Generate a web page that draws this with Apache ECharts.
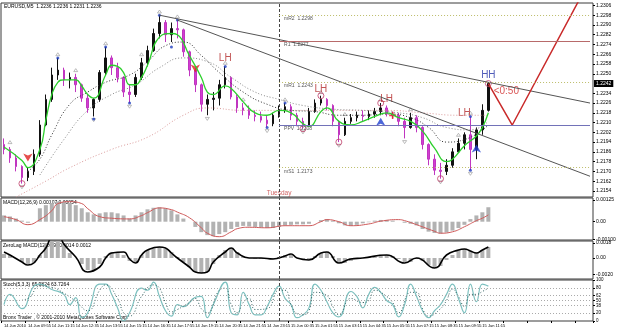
<!DOCTYPE html>
<html>
<head>
<meta charset="utf-8">
<script src="https://cdn.jsdelivr.net/npm/echarts@6/dist/echarts.min.js"></script>
<style>
  html, body { margin: 0; padding: 0; background: #fff; }
  #chart { width: 625px; height: 330px; }
</style>
</head>
<body>
<div id="chart"></div>
<script>
const FONT = 'Liberation Sans'
const NARROW = '"Liberation Sans Narrow", "Liberation Sans"'

// bottom time labels, one every 4 slots (20 min per slot)
const timeLabels = [
  '14 Jun 2010', '14 Jun 09:55', '14 Jun 11:15', '14 Jun 12:35', '14 Jun 13:55',
  '14 Jun 15:15', '14 Jun 16:35', '14 Jun 17:55', '14 Jun 19:15', '14 Jun 20:35',
  '14 Jun 21:55', '14 Jun 23:15', '15 Jun 00:35', '15 Jun 01:55', '15 Jun 03:15',
  '15 Jun 04:35', '15 Jun 05:55', '15 Jun 07:15', '15 Jun 08:35', '15 Jun 09:55',
  '15 Jun 11:15',
]
const SLOTS = 99
const slots = Array.from({ length: SLOTS }, (_, i) => String(i))
const dayStart = 46

const priceTicks = [1.2154, 1.2162, 1.2170, 1.2178, 1.2186, 1.2194, 1.2202, 1.2210, 1.2218,
  1.2226, 1.2234, 1.2250, 1.2258, 1.2266, 1.2274, 1.2282, 1.2290, 1.2298, 1.2306]
const lastPrice = 1.2242

// [open, close, low, high]
const candles = [
  [1.2192, 1.2188, 1.2184, 1.2197], [1.2188, 1.2181, 1.2177, 1.2190], [1.2181, 1.2174, 1.2170, 1.2184],
  [1.2174, 1.2165, 1.2160, 1.2175], [1.2165, 1.2170, 1.2162, 1.2173], [1.2170, 1.2184, 1.2167, 1.2188],
  [1.2184, 1.2208, 1.2182, 1.2212], [1.2208, 1.2229, 1.2207, 1.2233], [1.2229, 1.2249, 1.2227, 1.2255],
  [1.2249, 1.2253, 1.2245, 1.2263], [1.2253, 1.2245, 1.2240, 1.2255], [1.2245, 1.2247, 1.2238, 1.2251],
  [1.2247, 1.2241, 1.2235, 1.2250], [1.2241, 1.2230, 1.2227, 1.2242], [1.2230, 1.2222, 1.2218, 1.2233],
  [1.2222, 1.2229, 1.2215, 1.2230], [1.2229, 1.2251, 1.2227, 1.2253], [1.2251, 1.2263, 1.2249, 1.2272],
  [1.2263, 1.2255, 1.2249, 1.2265], [1.2255, 1.2247, 1.2243, 1.2259], [1.2247, 1.2235, 1.2231, 1.2248],
  [1.2235, 1.2233, 1.2226, 1.2241], [1.2233, 1.2247, 1.2231, 1.2250], [1.2247, 1.2259, 1.2245, 1.2263],
  [1.2259, 1.2269, 1.2256, 1.2273], [1.2269, 1.2283, 1.2268, 1.2287], [1.2283, 1.2292, 1.2279, 1.2298],
  [1.2292, 1.2282, 1.2276, 1.2294], [1.2282, 1.2287, 1.2276, 1.2292], [1.2287, 1.2286, 1.2279, 1.2294],
  [1.2286, 1.2268, 1.2264, 1.2287], [1.2268, 1.2253, 1.2248, 1.2269], [1.2253, 1.2241, 1.2235, 1.2255],
  [1.2241, 1.2225, 1.2219, 1.2242], [1.2225, 1.2229, 1.2216, 1.2233], [1.2229, 1.2230, 1.2220, 1.2235],
  [1.2230, 1.2241, 1.2224, 1.2245], [1.2241, 1.2247, 1.2238, 1.2256], [1.2247, 1.2231, 1.2229, 1.2248],
  [1.2231, 1.2222, 1.2218, 1.2233], [1.2222, 1.2220, 1.2216, 1.2226], [1.2220, 1.2216, 1.2213, 1.2224],
  [1.2216, 1.2215, 1.2211, 1.2220], [1.2215, 1.2212, 1.2210, 1.2219], [1.2212, 1.2209, 1.2206, 1.2216],
  [1.2209, 1.2216, 1.2207, 1.2218], [1.2216, 1.2220, 1.2214, 1.2224], [1.2220, 1.2223, 1.2218, 1.2226],
  [1.2223, 1.2216, 1.2212, 1.2225], [1.2216, 1.2211, 1.2207, 1.2218], [1.2211, 1.2208, 1.2205, 1.2214],
  [1.2208, 1.2219, 1.2207, 1.2222], [1.2219, 1.2226, 1.2218, 1.2229], [1.2226, 1.2229, 1.2224, 1.2232],
  [1.2229, 1.2224, 1.2220, 1.2230], [1.2224, 1.2211, 1.2207, 1.2225], [1.2211, 1.2200, 1.2194, 1.2212],
  [1.2200, 1.2211, 1.2199, 1.2214], [1.2211, 1.2214, 1.2209, 1.2217], [1.2214, 1.2216, 1.2211, 1.2219],
  [1.2216, 1.2215, 1.2211, 1.2220], [1.2215, 1.2217, 1.2212, 1.2220], [1.2217, 1.2219, 1.2214, 1.2222],
  [1.2219, 1.2222, 1.2216, 1.2226], [1.2222, 1.2217, 1.2215, 1.2224], [1.2217, 1.2216, 1.2213, 1.2219],
  [1.2216, 1.2211, 1.2207, 1.2218], [1.2211, 1.2206, 1.2197, 1.2214], [1.2206, 1.2214, 1.2205, 1.2218],
  [1.2214, 1.2206, 1.2202, 1.2216], [1.2206, 1.2192, 1.2188, 1.2207], [1.2192, 1.2180, 1.2175, 1.2193],
  [1.2180, 1.2171, 1.2167, 1.2184], [1.2171, 1.2170, 1.2164, 1.2177], [1.2170, 1.2175, 1.2167, 1.2180],
  [1.2175, 1.2186, 1.2173, 1.2189], [1.2186, 1.2193, 1.2186, 1.2197], [1.2193, 1.2200, 1.2188, 1.2202],
  [1.2200, 1.2188, 1.2171, 1.2215], [1.2188, 1.2204, 1.2180, 1.2206], [1.2204, 1.2220, 1.2200, 1.2225],
  [1.2220, 1.2242, 1.2219, 1.2243],
]

// moving averages, read at [slot, price]
const maFast = [[0, 1.2190], [3, 1.2179], [4, 1.2173], [6, 1.2188], [7, 1.2212], [8, 1.2233], [9, 1.2243],
  [10, 1.2245], [12, 1.2245], [13, 1.2240], [14, 1.2233], [15, 1.2230], [17, 1.2249], [18, 1.2257],
  [19, 1.2256], [20, 1.2251], [21, 1.2241], [22, 1.2241], [23, 1.2247], [24, 1.2257], [26, 1.2280],
  [28, 1.2283], [29, 1.2282], [31, 1.2265], [33, 1.2247], [34, 1.2235], [35, 1.2233], [37, 1.2240],
  [38, 1.2238], [40, 1.2227], [42, 1.2218], [44, 1.2216], [46, 1.2220], [48, 1.2218], [50, 1.2209],
  [51, 1.2207], [53, 1.2219], [54, 1.2222], [56, 1.2211], [58, 1.2208], [60, 1.2211], [62, 1.2215],
  [64, 1.2218], [66, 1.2214], [68, 1.2211], [70, 1.2203], [72, 1.2189], [74, 1.2178], [75, 1.2180],
  [77, 1.2191], [79, 1.2199], [80, 1.2206], [81, 1.2218]]
const maMid = [[4, 1.2170], [6, 1.2180], [8, 1.2200], [11, 1.2225], [14, 1.2235], [17, 1.2243], [21, 1.2249],
  [24, 1.2260], [27, 1.2273], [30, 1.2276], [33, 1.2265], [36, 1.2251], [40, 1.2235], [44, 1.2225],
  [48, 1.2220], [52, 1.2219], [56, 1.2216], [60, 1.2216], [64, 1.2217], [68, 1.2214], [71, 1.2206],
  [74, 1.2194], [77, 1.2196], [81, 1.2208]]
const maSlow = [[6, 1.2167], [10, 1.2196], [14, 1.2220], [18, 1.2233], [22, 1.2241], [26, 1.2255],
  [30, 1.2263], [34, 1.2260], [38, 1.2247], [42, 1.2235], [46, 1.2229], [50, 1.2224], [55, 1.2221],
  [60, 1.2220], [66, 1.2218], [70, 1.2214], [74, 1.2206], [78, 1.2204], [81, 1.2211]]
const maLong = [[2, 1.2149], [7, 1.2162], [11, 1.2173], [18, 1.2188], [24, 1.2198], [30, 1.2216],
  [34, 1.2222], [40, 1.2220], [46, 1.2220], [52, 1.2220], [58, 1.2220], [64, 1.2220], [70, 1.2218],
  [76, 1.2216], [81, 1.2216]]

const trendUpper = [[26, 1.2298], [98, 1.2226]]
const trendLower = [[29, 1.2294], [98, 1.2166]]
const projection = [[81, 1.2242], [85, 1.2208], [97, 1.2318]]

const pivotNames = ['mR2', 'R1', 'mR1', 'PPV', 'mS1']
const pivotValues = [1.2298, 1.2277, 1.2243, 1.2208, 1.2173]

const fractalHighs = [[1, 1.2194], [9, 1.2266], [12, 1.2253], [17, 1.2275], [23, 1.2266], [26, 1.2301],
  [29, 1.2297], [37, 1.2259], [40, 1.2229], [47, 1.2229], [53, 1.2235], [57, 1.2217], [63, 1.2229],
  [68, 1.2221], [76, 1.2200], [78, 1.2218]]
const fractalLows = [[3, 1.2157], [15, 1.2212], [21, 1.2223], [34, 1.2213], [44, 1.2203], [50, 1.2202],
  [56, 1.2191], [67, 1.2194], [73, 1.2161], [78, 1.2168]]
const blueDots = [[9, 1.2263], [17, 1.2272], [26, 1.2298], [28, 1.2272], [29, 1.2294], [15, 1.2213],
  [21, 1.2226], [37, 1.2256], [44, 1.2206], [47, 1.2226], [78, 1.2215], [78, 1.2171]]
const targets = [[3, 1.2160], [50, 1.2205], [56, 1.2194], [53, 1.2232], [63, 1.2226], [73, 1.2164], [81, 1.2242]]
const sellArrows = [[4, 1.2178], [32, 1.2251]]
const buyArrows = [[63, 1.2214], [79, 1.2192]]
const exitCross = [[65, 1.2216]]

const swingNames = ['LH', 'LH', 'LH', 'LH', 'HH', '<0:50']
const swingPoints = [[37, 1.2263], [53, 1.2237], [64, 1.2229], [77, 1.2218], [81, 1.2249], [84, 1.2236]]

// MACD(12,26,9)
const macdHist = [0.00036, 0.00030, 0.00018, 0.00006, -0.00006, 0, 0.00077, 0.00095, 0.00107, 0.00116,
  0.00113, 0.00107, 0.00095, 0.00077, 0.00054, 0.00042, 0.00048, 0.00054, 0.00054, 0.00048,
  0.00036, 0.00018, 0.00036, 0.00054, 0.00071, 0.00080, 0.00083, 0.00077, 0.00065, 0.00042,
  0.00018, 0, -0.00030, -0.00060, -0.00077, -0.00083, -0.00071, -0.00060, -0.00042, -0.00030,
  -0.00024, -0.00027, -0.00030, -0.00033, -0.00036, -0.00036, -0.00030, -0.00021, -0.00018, -0.00015,
  -0.00015, -0.00012, 0, 0.00009, 0.00015, 0.00006, -0.00009, -0.00021, -0.00024, -0.00018,
  -0.00009, -0.00003, 0.00006, 0.00010, 0.00010, 0.00006, 0, -0.00006, -0.00012, -0.00021,
  -0.00042, -0.00057, -0.00065, -0.00068, -0.00062, -0.00051, -0.00036, -0.00018, 0.00015, 0.00036,
  0.00054, 0.00083]
const macdSignal = [[0, 0.00029], [2, 0.00012], [4, -0.00017], [6, 0.00012], [8, 0.00063], [9, 0.00104],
  [11, 0.00115], [13, 0.00104], [14, 0.00075], [16, 0.00029], [18, 0.00020], [21, 0.00016], [23, 0.00035],
  [24, 0.00052], [26, 0.00079], [28, 0.00069], [29, 0.00055], [31, 0.00023], [33, -0.00035], [34, -0.00066],
  [36, -0.00086], [38, -0.00058], [39, -0.00040], [41, -0.00032], [44, -0.00035], [47, -0.00023],
  [51, -0.00023], [53, 0], [54, 0.00012], [56, 0], [58, -0.00023], [61, -0.00013], [63, 0.00003],
  [66, 0.00012], [67, 0.00006], [69, -0.00017], [72, -0.00055], [73, -0.00066], [75, -0.00058],
  [77, -0.00029], [79, 0.00006], [80, 0.00020], [81, 0.00039]]

// ZeroLag MACD(12,26,9)
const zlHist = [0.00048, 0.00036, 0, -0.00048, -0.00072, -0.00060, 0.00036, 0.00180, 0.00240, 0.00240,
  0.00168, 0.00060, 0, -0.00072, -0.00144, -0.00144, -0.00072, 0.00024, 0.00072, 0.00072,
  0.00036, -0.00036, -0.00048, 0.00036, 0.00096, 0.00120, 0.00132, 0.00108, 0.00072, 0.00012,
  -0.00048, -0.00108, -0.00168, -0.00180, -0.00168, -0.00072, 0.00036, 0.00096, 0.00108, 0.00072,
  0.00024, 0, -0.00012, -0.00012, -0.00012, -0.00012, 0.00012, 0.00036, 0.00036, 0,
  -0.00012, -0.00024, 0.00024, 0.00060, 0.00072, 0.00024, -0.00048, -0.00060, -0.00036, -0.00012,
  0, 0.00012, 0.00012, 0.00024, 0.00036, 0.00024, -0.00012, -0.00048, -0.00048, -0.00012,
  -0.00036, -0.00084, -0.00120, -0.00096, -0.00024, 0.00036, 0.00096, 0.00108, 0.00084, 0.00060,
  0.00096, 0.00132]
const zlSignal = [[0, 0.00072], [1, 0.00036], [3, -0.00048], [4, -0.00084], [5, -0.00060], [6, 0.00036],
  [7, 0.00120], [8, 0.00264], [9, 0.00300], [10, 0.00168], [12, 0.00012], [14, -0.00168], [16, -0.00108],
  [17, 0], [18, 0.00060], [20, 0.00072], [21, -0.00012], [22, -0.00060], [23, 0.00036], [24, 0.00096],
  [26, 0.00132], [27, 0.00120], [28, 0.00060], [29, 0], [31, -0.00108], [32, -0.00168], [33, -0.00180],
  [34, -0.00168], [35, -0.00048], [37, 0.00072], [38, 0.00120], [39, 0.00060], [41, 0], [43, 0],
  [45, -0.00012], [47, 0.00024], [48, 0.00048], [49, 0], [51, -0.00024], [53, 0.00060], [54, 0.00072],
  [56, -0.00060], [58, -0.00012], [60, 0], [64, 0.00036], [67, -0.00060], [69, 0], [72, -0.00120],
  [74, 0.00036], [76, 0.00096], [77, 0.00108], [78, 0.00084], [79, 0.00060], [80, 0.00096], [81, 0.00132]]

// Stoch(5,3,3)
const stochMain = [[0, 40], [1, 65], [3, 30], [5, 85], [6, 90], [8, 77], [10, 65], [11, 40], [12, 57],
  [13, 8], [14, 20], [16, 90], [17, 90], [18, 65], [19, 32], [20, 0], [21, 20], [23, 80], [24, 75],
  [25, 95], [26, 60], [27, 25], [28, 12], [29, 40], [30, 35], [32, 58], [33, 60], [34, 8], [35, 40],
  [37, 95], [38, 20], [39, 15], [40, 70], [41, 40], [42, 15], [43, 15], [44, 35], [45, 65], [46, 85],
  [47, 55], [48, 40], [49, 8], [50, 15], [51, 32], [52, 90], [53, 75], [54, 47], [55, 20], [56, 10],
  [58, 72], [59, 60], [60, 32], [61, 65], [62, 82], [63, 70], [64, 50], [65, 40], [66, 10], [67, 40],
  [68, 90], [69, 60], [70, 25], [71, 8], [72, 25], [73, 40], [74, 65], [75, 90], [76, 55], [77, 20],
  [78, 90], [79, 47], [80, 90], [81, 85]]
const stochSignal = [[0, 50], [2, 50], [4, 55], [6, 85], [8, 82], [10, 68], [12, 48], [14, 25], [16, 75],
  [17, 88], [19, 55], [20, 20], [21, 12], [23, 60], [25, 88], [26, 80], [27, 45], [28, 22], [29, 28],
  [31, 45], [32, 55], [33, 30], [34, 20], [36, 75], [37, 80], [38, 40], [39, 20], [40, 45], [41, 55],
  [42, 28], [44, 30], [46, 75], [47, 75], [48, 40], [49, 18], [50, 15], [51, 25], [52, 70], [54, 62],
  [55, 35], [56, 15], [58, 55], [60, 45], [61, 50], [62, 75], [64, 60], [65, 45], [66, 20], [68, 70],
  [69, 70], [70, 30], [71, 12], [73, 30], [74, 50], [75, 78], [76, 60], [77, 35], [78, 65], [79, 65],
  [80, 72], [81, 80]]
const stochLevels = [20, 38, 50, 62, 80]
const stochTicks = [0, 20, 38, 50, 62, 80, 100]

const chart = echarts.init(document.getElementById('chart'), null, { renderer: 'canvas' })

const pivotStyle = {
  mR2: { color: '#bdbd6a', type: [1, 2] },
  R1: { color: '#b86a6a', type: 'solid' },
  mR1: { color: '#bdbd6a', type: [1, 2] },
  PPV: { color: '#7272b8', type: 'solid' },
  mS1: { color: '#bdbd6a', type: [1, 2] },
}

const daySeparator = {
  silent: true,
  symbol: 'none',
  label: { show: false },
  lineStyle: { color: '#444', type: [3, 2], width: 1 },
  data: [{ xAxis: dayStart }],
}

function xAxisFor(gridIndex, bottom) {
  return {
    type: 'category', gridIndex, data: slots, boundaryGap: true,
    axisLine: { show: false },
    axisTick: { show: bottom, interval: 3, length: 2, lineStyle: { color: '#000' } },
    axisLabel: {
      show: bottom, interval: 3, align: 'left', margin: 3, fontSize: 4, color: '#000', fontFamily: NARROW,
      showMinLabel: true, hideOverlap: false,
      formatter: (v, i) => timeLabels[i / 4] || '',
    },
    splitLine: { show: false },
  }
}

function yAxisFor(gridIndex, min, max, ticks, fmt, size) {
  return {
    type: 'value', gridIndex, position: 'right', min, max, scale: true,
    axisLine: { show: false },
    axisTick: { show: true, length: 2, customValues: ticks, lineStyle: { color: '#000' } },
    axisLabel: { customValues: ticks, formatter: fmt, fontSize: size, color: '#000', margin: 3, fontFamily: NARROW },
    splitLine: { show: false },
  }
}

const gridBox = { left: 1, right: 32, show: true, borderColor: '#3a3a3a', borderWidth: 1, backgroundColor: '#fff' }

const textStyle = (size, color) => ({ fontSize: size, fill: color, fontFamily: NARROW })

const swingColor = { LH: '#b32b2b', HH: '#2433a8', '<0:50': '#d02a2a' }

chart.setOption({
  animation: false,
  backgroundColor: '#fff',
  grid: [
    { ...gridBox, top: 3, height: 194 },
    { ...gridBox, top: 198, height: 42 },
    { ...gridBox, top: 241, height: 38 },
    { ...gridBox, top: 280, height: 41 },
  ],
  xAxis: [xAxisFor(0, false), xAxisFor(1, false), xAxisFor(2, false), xAxisFor(3, true)],
  yAxis: [
    yAxisFor(0, 1.2149, 1.2308, priceTicks, v => v.toFixed(4), 5),
    yAxisFor(1, -0.00105, 0.00136, [-0.001, 0, 0.00125], v => (v === 0 ? '0.00' : v.toFixed(5)), 5),
    yAxisFor(2, -0.00252, 0.00204, [-0.002, 0, 0.0018], v => (v === 0 ? '0.00' : v.toFixed(4)), 5),
    yAxisFor(3, 0, 100, stochTicks, v => String(v), 4.5),
  ],
  graphic: [
    { type: 'text', left: 4, top: 4, style: { text: 'EURUSD,M5  1.2236 1.2236 1.2231 1.2236', ...textStyle(5, '#000') } },
    { type: 'text', left: 3, top: 200, style: { text: 'MACD(12,26,9) 0.00107 0.00054', ...textStyle(5, '#000') } },
    { type: 'text', left: 3, top: 243, style: { text: 'ZeroLag MACD(12,26,9) 0.0014 0.0012', ...textStyle(5, '#000') } },
    { type: 'text', left: 3, top: 282, style: { text: 'Stoch(5,3,3) 65.9824 63.7264', ...textStyle(5, '#000') } },
    { type: 'text', left: 3, top: 315, style: { text: 'Bronx Trader , © 2001-2010 MetaQuotes Software Corp.', ...textStyle(5, '#000') } },
  ],
  series: [
    {
      name: 'EURUSD', type: 'candlestick', xAxisIndex: 0, yAxisIndex: 0, data: candles, barWidth: 2,
      itemStyle: { color: '#111', color0: '#d23ed2', borderColor: '#111', borderColor0: '#c035c0', borderWidth: 1 },
      markLine: {
        silent: true, symbol: 'none', animation: false,
        data: [
          { xAxis: dayStart, lineStyle: { color: '#444', type: [3, 2], width: 1 }, label: { show: false } },
          ...pivotNames.map((n, k) => [
            {
              coord: [dayStart, pivotValues[k]],
              lineStyle: { ...pivotStyle[n], width: 1 },
              label: {
                show: true, position: 'insideStartBottom', distance: [5, 1],
                formatter: `${n}  ${pivotValues[k].toFixed(4)}`,
                fontSize: 5, color: '#555', fontFamily: NARROW,
              },
            },
            { coord: [SLOTS - 1, pivotValues[k]] },
          ]),
        ],
      },
    },
    { name: 'MA long', type: 'line', xAxisIndex: 0, yAxisIndex: 0, data: maLong, smooth: true, symbol: 'none',
      lineStyle: { color: '#d99a9a', width: 1, type: [1, 2] } },
    { name: 'MA slow', type: 'line', xAxisIndex: 0, yAxisIndex: 0, data: maSlow, smooth: true, symbol: 'none',
      lineStyle: { color: '#888', width: 1, type: [1, 2] } },
    { name: 'MA mid', type: 'line', xAxisIndex: 0, yAxisIndex: 0, data: maMid, smooth: true, symbol: 'none',
      lineStyle: { color: '#333', width: 1, type: [1, 2] } },
    { name: 'MA fast', type: 'line', xAxisIndex: 0, yAxisIndex: 0, data: maFast, smooth: true, symbol: 'none',
      lineStyle: { color: '#2ccf2c', width: 1.3 } },
    { name: 'Trend upper', type: 'line', xAxisIndex: 0, yAxisIndex: 0, data: trendUpper, symbol: 'none',
      lineStyle: { color: '#555', width: 1 } },
    { name: 'Trend lower', type: 'line', xAxisIndex: 0, yAxisIndex: 0, data: trendLower, symbol: 'none',
      lineStyle: { color: '#555', width: 1 } },
    {
      name: 'Projection', type: 'line', xAxisIndex: 0, yAxisIndex: 0, data: projection, symbol: 'none',
      lineStyle: { color: '#c92a2a', width: 1.5 },
      markLine: {
        silent: true, symbol: 'none', animation: false,
        data: [[
          { coord: [0, lastPrice], lineStyle: { color: 'transparent', width: 0 } },
          { coord: [SLOTS - 1, lastPrice] },
        ]],
        label: {
          show: true, position: 'end', distance: 4, formatter: lastPrice.toFixed(4),
          backgroundColor: '#000', color: '#fff', padding: [1, 2], fontSize: 5, fontFamily: NARROW,
        },
      },
    },
    { name: 'Fractal up', type: 'scatter', xAxisIndex: 0, yAxisIndex: 0, data: fractalHighs, symbol: 'triangle',
      symbolSize: [4, 3], itemStyle: { color: 'transparent', borderColor: '#999', borderWidth: 0.8 } },
    { name: 'Fractal down', type: 'scatter', xAxisIndex: 0, yAxisIndex: 0, data: fractalLows, symbol: 'triangle',
      symbolRotate: 180, symbolSize: [4, 3], itemStyle: { color: 'transparent', borderColor: '#999', borderWidth: 0.8 } },
    { name: 'Dots', type: 'scatter', xAxisIndex: 0, yAxisIndex: 0, data: blueDots, symbolSize: 3,
      itemStyle: { color: '#1f3fbf' } },
    { name: 'Targets', type: 'scatter', xAxisIndex: 0, yAxisIndex: 0, data: targets, symbol: 'circle', symbolSize: 6,
      itemStyle: { color: 'transparent', borderColor: '#c0406a', borderWidth: 1 } },
    { name: 'Sell', type: 'scatter', xAxisIndex: 0, yAxisIndex: 0, data: sellArrows, symbol: 'arrow', symbolRotate: 180,
      symbolSize: [7, 8], itemStyle: { color: '#e02020' } },
    { name: 'Buy', type: 'scatter', xAxisIndex: 0, yAxisIndex: 0, data: buyArrows, symbol: 'arrow',
      symbolSize: [7, 8], itemStyle: { color: '#2040d0' } },
    { name: 'Exit', type: 'scatter', xAxisIndex: 0, yAxisIndex: 0, data: exitCross,
      symbol: 'path://M3,0H5V3H8V5H5V8H3V5H0V3H3Z', symbolSize: 7, itemStyle: { color: '#e02020' } },
    {
      name: 'Swings', type: 'scatter', xAxisIndex: 0, yAxisIndex: 0, symbolSize: 1,
      itemStyle: { color: 'transparent' },
      data: swingPoints.map((p, k) => ({
        value: p, name: swingNames[k], label: { color: swingColor[swingNames[k]] },
      })),
      label: { show: true, position: 'inside', formatter: p => p.name, fontSize: 10, fontFamily: FONT },
      labelLayout: { hideOverlap: false },
    },
    {
      name: 'Day', type: 'scatter', xAxisIndex: 0, yAxisIndex: 0, symbolSize: 1, itemStyle: { color: 'transparent' },
      data: [{ value: [dayStart, 1.2152], name: 'Tuesday' }],
      label: { show: true, position: 'inside', formatter: p => p.name, fontSize: 6.5, color: '#c43a3a', fontFamily: FONT },
    },

    { name: 'MACD', type: 'bar', xAxisIndex: 1, yAxisIndex: 1, data: macdHist, barWidth: 4,
      itemStyle: { color: '#b2b2b2' }, markLine: daySeparator },
    { name: 'Signal', type: 'line', xAxisIndex: 1, yAxisIndex: 1, data: macdSignal, smooth: true, symbol: 'none',
      lineStyle: { color: '#cf5a5a', width: 1 } },

    { name: 'ZeroLag', type: 'bar', xAxisIndex: 2, yAxisIndex: 2, data: zlHist, barWidth: 4,
      itemStyle: { color: '#b2b2b2' }, markLine: daySeparator },
    { name: 'ZeroLag signal', type: 'line', xAxisIndex: 2, yAxisIndex: 2, data: zlSignal, smooth: true, symbol: 'none',
      lineStyle: { color: '#000', width: 1.6 } },

    {
      name: 'Stoch', type: 'line', xAxisIndex: 3, yAxisIndex: 3, data: stochMain, smooth: true, symbol: 'none',
      lineStyle: { color: '#7cc0bf', width: 1.2 },
      markLine: {
        silent: true, symbol: 'none', label: { show: false },
        lineStyle: { color: '#aaa', type: [1, 2], width: 1 },
        data: [...stochLevels.map(v => ({ yAxis: v })),
          { xAxis: dayStart, lineStyle: { color: '#444', type: [3, 2], width: 1 } }],
      },
    },
    { name: 'Stoch signal', type: 'line', xAxisIndex: 3, yAxisIndex: 3, data: stochSignal, smooth: true, symbol: 'none',
      lineStyle: { color: '#2f5f5f', width: 1, type: [1, 2] } },
  ],
})
</script>
</body>
</html>
